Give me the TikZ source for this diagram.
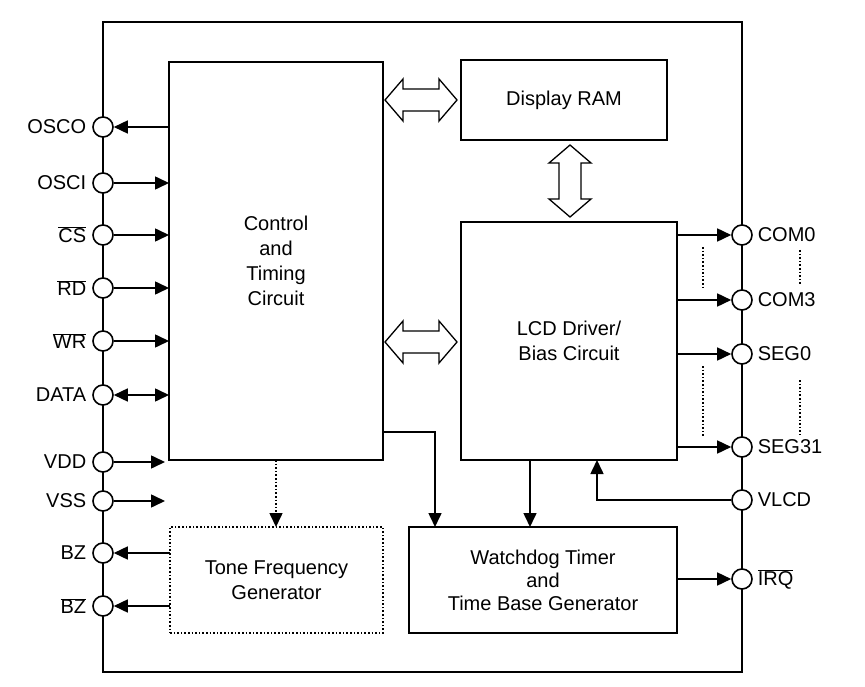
\documentclass[tikz,border=0pt]{standalone}
\usepackage{fontspec}
\setmainfont{Liberation Sans}
\usetikzlibrary{arrows.meta}
\begin{document}
\begin{tikzpicture}[x=1pt,y=-1pt,line width=1.6pt,
 blk/.style={draw,align=center,font=\fontsize{20}{25}\selectfont},
 pin/.style={draw,circle,fill=white,minimum size=20pt,inner sep=0pt},
 lbl/.style={font=\fontsize{20}{24}\selectfont,inner sep=1pt},
 ar/.style={-{Triangle[length=14pt,width=13pt]}},
 dar/.style={{Triangle[length=14pt,width=13pt]}-{Triangle[length=14pt,width=13pt]}},
 hol/.style={draw,line width=1.3pt,fill=white,line join=miter},
 pics/harr/.style={code={\path[hol] (-36,0) -- (-18,-21) -- (-18,-11) -- (18,-11) -- (18,-21) -- (36,0) -- (18,21) -- (18,11) -- (-18,11) -- (-18,21) -- cycle;}}]
\useasboundingbox (0,0) rectangle (865,687);
\draw (103,22) rectangle (742,672);
\node[blk,minimum width=214pt,minimum height=398pt] (ctl) at (276,261) {Control\\and\\Timing\\Circuit};
\node[blk,minimum width=206pt,minimum height=80pt] (ram) at (564,100) {Display RAM};
\node[blk,minimum width=216pt,minimum height=238pt] (lcd) at (569,341) {LCD Driver/\\Bias Circuit};
\node[blk,minimum width=268pt,minimum height=106pt,font=\fontsize{20}{23}\selectfont] (wd) at (543,580) {Watchdog Timer\\and\\Time Base Generator};
\node[blk,dotted,minimum width=213pt,minimum height=106pt] (tone) at (276.5,580) {Tone Frequency\\Generator};
\pic at (421,100) {harr};
\pic at (421,342) {harr};
\pic[rotate=90] at (570,181) {harr};
% left pins
\foreach \n/\y/\t in {osco/127/OSCO,osci/183/OSCI,cs/235/$\overline{\mbox{CS}}$,rd/288/$\overline{\mbox{RD}}$,wr/341/$\overline{\mbox{WR}}$,data/395/DATA,vdd/462/VDD,vss/501/VSS,bz/553/BZ,bzb/606/$\overline{\mbox{BZ}}$}{
 \node[pin] (\n) at (103,\y) {};
 \node[lbl,anchor=east] at (88,\y) {\t};}
\foreach \y/\n in {183/osci,235/cs,288/rd,341/wr}{ \coordinate (e\n) at (169,\y); \draw[ar] (\n) -- (e\n);}
\coordinate (eosco) at (169,127); \draw[ar] (eosco) -- (osco);
\coordinate (edata) at (169,395); \draw[dar] (data) -- (edata);
\coordinate (evdd) at (165,462); \draw[ar] (vdd) -- (evdd);
\coordinate (evss) at (165,501); \draw[ar] (vss) -- (evss);
\coordinate (ebz) at (170,553); \draw[ar] (ebz) -- (bz);
\coordinate (ebzb) at (170,606); \draw[ar] (ebzb) -- (bzb);
% right pins
\foreach \n/\y/\t in {com0/235/COM0,com3/300/COM3,seg0/354/SEG0,seg31/447/SEG31,vlcd/500/VLCD,irq/579/$\overline{\mbox{IRQ}}$}{
 \node[pin] (\n) at (742,\y) {};
 \node[lbl,anchor=west] at (756,\y) {\t};}
\foreach \y/\n in {235/com0,300/com3,354/seg0,447/seg31}{ \coordinate (s\n) at (677,\y); \draw[ar] (s\n) -- (\n);}
\coordinate (sirq) at (677,579); \draw[ar] (sirq) -- (irq);
\coordinate (vl) at (597,460); \draw[ar] (vlcd) -| (vl);
\coordinate (c1) at (383,432); \coordinate (c2) at (435,527); \draw[ar] (c1) -| (c2);
\coordinate (l1) at (530,460); \coordinate (l2) at (530,527); \draw[ar] (l1) -- (l2);
\coordinate (t1) at (276,460); \coordinate (t2) at (276,527); \draw[ar,dotted] (t1) -- (t2);
\draw[dotted,line width=1.6pt] (703,247) -- (703,290) (703,366) -- (703,437) (800,250) -- (800,285) (800,380) -- (800,435);
\end{tikzpicture}
\end{document}
